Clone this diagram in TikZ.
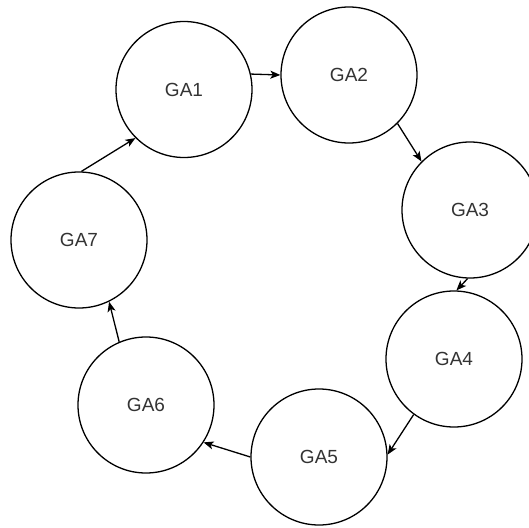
\documentclass[tikz,border=0pt]{standalone}
\usepackage{fontspec}
\setmainfont{Liberation Sans}
\usetikzlibrary{arrows.meta}
\begin{document}
\begin{tikzpicture}[x=1pt,y=-1pt,
  state/.style={circle,draw=black,line width=1.3pt,minimum size=136pt,inner sep=0pt,
    font=\fontsize{19}{22}\selectfont,text=black!80},
  link/.style={draw=black,line width=1.3pt,-{Stealth[length=10pt,width=8pt,inset=2.5pt]}}]
\useasboundingbox (0,0) rectangle (529,527);
% ring of seven stages
\node[state] (ga1) at (184,89.5) {GA1};
\node[state] (ga2) at (349,75)   {GA2};
\node[state] (ga3) at (470,210)  {GA3};
\node[state] (ga4) at (454,359)  {GA4};
\node[state] (ga5) at (319,457)  {GA5};
\node[state] (ga6) at (146,405)  {GA6};
\node[state] (ga7) at (79,240)   {GA7};
% clockwise transitions
\draw[link] (ga1.13)  -- (ga2.180);
\draw[link] (ga2.-45) -- (ga3.135);
\draw[link] (ga3.-92) -- (ga4.88);
\draw[link] (ga4.234) -- (ga5.2);
\draw[link] (ga5.180) -- (ga6.-33);
\draw[link] (ga6.113) -- (ga7.-64);
\draw[link] (ga7.88)  -- (ga1.225);
\end{tikzpicture}
\end{document}
